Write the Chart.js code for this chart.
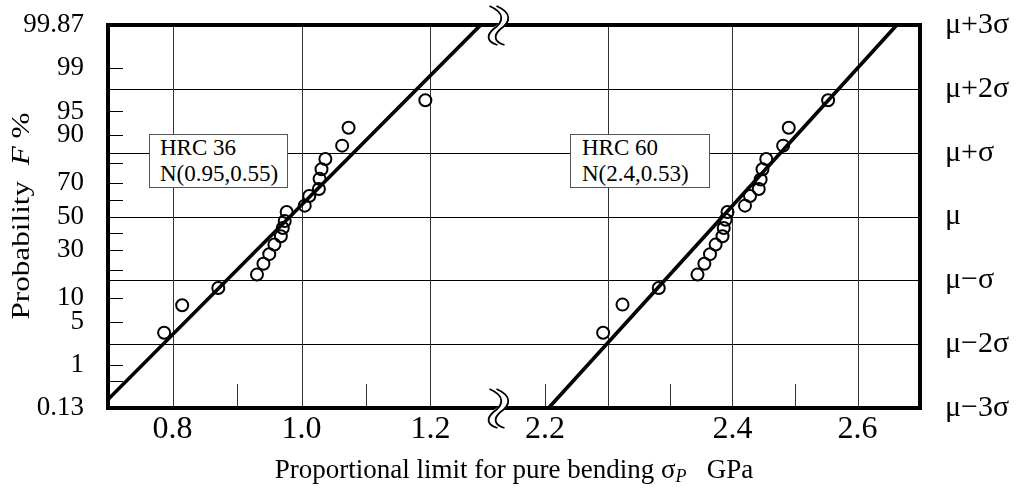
<!DOCTYPE html>
<html>
<head>
<meta charset="utf-8">
<title>Probability plot - proportional limit</title>
<script src="https://cdn.jsdelivr.net/npm/chart.js@4.4.1/dist/chart.umd.min.js"></script>
<style>
  body { margin: 0; background: #fff; }
  #wrap { position: relative; width: 1017px; height: 490px; font-family: "Liberation Serif", "Times New Roman", serif; color: #000; }
  #wrap canvas { position: absolute; left: 0; top: 0; }
  .box { position: absolute; box-sizing: border-box; background: #fff; border: 1px solid #555;
         font-size: 23px; line-height: 26px; padding: 0 0 0 10px; white-space: nowrap; }
  #xtitle { position: absolute; left: 0; width: 1028px; top: 454px; text-align: center; font-size: 27px; line-height: 30px; white-space: pre; }
  #xtitle .sub { font-style: italic; font-size: 18px; position: relative; top: 4px; }
  #ytitle { position: absolute; width: 300px; height: 30px; left: -129px; top: 201px; text-align: center;
            font-size: 26px; line-height: 30px; transform: rotate(-90deg) scaleX(1.2); white-space: pre; }
</style>
</head>
<body>
<div id="wrap">
  <canvas id="left" width="1017" height="490"></canvas>
  <canvas id="right" width="1017" height="490"></canvas>
  <div class="box" style="left:149px; top:134px; width:139px; height:54px;">HRC 36<br>N(0.95,0.55)</div>
  <div class="box" style="left:570px; top:134px; width:140px; height:54px; padding-left:11px;">HRC 60<br>N(2.4,0.53)</div>
  <div id="xtitle">Proportional limit for pure bending σ<span class="sub">P</span>   GPa</div>
  <div id="ytitle">Probability  <i>F</i> %</div>
</div>
<script>
// HRC 36 specimens (GPa, normal score z)
const hrc36X = [0.787, 0.815, 0.871, 0.931, 0.941, 0.950, 0.958, 0.968, 0.971, 0.974,
                0.977, 1.005, 1.012, 1.027, 1.028, 1.031, 1.037, 1.063, 1.073, 1.192];
const hrc36Z = [-1.82, -1.39, -1.12, -0.91, -0.74, -0.59, -0.44, -0.31, -0.18, -0.07,
                0.07, 0.17, 0.32, 0.43, 0.59, 0.74, 0.90, 1.11, 1.39, 1.82];
// HRC 60 specimens
const hrc60X = [2.193, 2.224, 2.282, 2.344, 2.355, 2.364, 2.373, 2.384, 2.386, 2.389,
                2.392, 2.420, 2.428, 2.442, 2.445, 2.448, 2.454, 2.481, 2.490, 2.553];
const hrc60Z = [-1.82, -1.38, -1.12, -0.91, -0.74, -0.59, -0.44, -0.31, -0.18, -0.05,
                0.07, 0.17, 0.32, 0.43, 0.58, 0.74, 0.90, 1.11, 1.39, 1.82];

// fitted lines (two close strokes each)
const fit36aX = [0.700, 1.276], fit36aZ = [-2.85, 3];
const fit36bX = [0.700, 1.2795], fit36bZ = [-2.885, 3];
const fit60aX = [2.104, 2.661], fit60aZ = [-3, 3];
const fit60bX = [2.1075, 2.6645], fit60bZ = [-3, 3];

// axes
const probLabels = ['0.13', '1', '5', '10', '30', '50', '70', '90', '95', '99', '99.87'];
const probLabelZ = [-3, -2.326, -1.645, -1.282, -0.524, 0, 0.524, 1.282, 1.645, 2.326, 3];
const probMinorZ = [-2.576, -2.326, -1.645, -1.282, -0.842, -0.524, -0.253, 0.253, 0.524, 0.842, 1.282, 1.645, 2.326];
const sigmaZ = [-3, -2, -1, 0, 1, 2, 3];
const sigmaLabels = ['μ−3σ', 'μ−2σ', 'μ−σ', 'μ', 'μ+σ', 'μ+2σ', 'μ+3σ'];
const gridZ = [-2, -1, 0, 1, 2];

const leftXGrid = [0.8, 1.0, 1.2];
const leftXMinor = [0.9, 1.1];
const leftXTickPos = [0.8, 1.0, 1.2];
const leftXTickText = ['0.8', '1.0', '1.2'];
const rightXGrid = [2.2, 2.4, 2.6];
const rightXMinor = [2.1, 2.3, 2.5];
const rightXTickPos = [2.1, 2.4, 2.6];
const rightXTickText = ['2.2', '2.4', '2.6'];

Chart.defaults.font.family = '"Liberation Serif", "Times New Roman", serif';
Chart.defaults.color = '#000';

function pts(xs, zs) { return xs.map((x, i) => ({ x: x, y: zs[i] })); }

function drawBreak(ctx, cx, cy) {
  const path = (dx) => {
    ctx.beginPath();
    ctx.moveTo(cx - 4 + dx, cy - 19);
    ctx.bezierCurveTo(cx + 12 + dx, cy - 12, cx + 10 + dx, cy - 3, cx + dx, cy + 4);
    ctx.bezierCurveTo(cx - 8 + dx, cy + 11, cx - 6 + dx, cy + 17, cx + 4 + dx, cy + 20);
  };
  ctx.strokeStyle = '#fff'; ctx.lineWidth = 7; path(0); ctx.stroke();
  ctx.strokeStyle = '#000'; ctx.lineWidth = 1.8;
  path(-3.5); ctx.stroke();
  path(3.5); ctx.stroke();
}

const decor = {
  id: 'decor',
  beforeDatasetsDraw(chart, args, o) {
    const ctx = chart.ctx, a = chart.chartArea, x = chart.scales.x, y = chart.scales.y;
    ctx.save();
    ctx.lineWidth = 1;
    ctx.strokeStyle = '#000';
    ctx.beginPath();
    gridZ.forEach(z => {
      const py = Math.round(y.getPixelForValue(z)) + 0.5;
      ctx.moveTo(a.left, py); ctx.lineTo(a.right, py);
    });
    (o.yMinor || []).forEach(z => {
      const py = Math.round(y.getPixelForValue(z)) + 0.5;
      ctx.moveTo(a.left, py); ctx.lineTo(a.left + 15, py);
    });
    ctx.stroke();
    ctx.strokeStyle = '#333';
    ctx.beginPath();
    o.xGrid.forEach(v => {
      const px = Math.round(x.getPixelForValue(v)) + 0.5;
      ctx.moveTo(px, a.top); ctx.lineTo(px, a.bottom);
    });
    o.xMinor.forEach(v => {
      const px = Math.round(x.getPixelForValue(v)) + 0.5;
      ctx.moveTo(px, a.bottom); ctx.lineTo(px, a.bottom - 24);
    });
    ctx.stroke();
    ctx.restore();
  },
  afterDraw(chart, args, o) {
    const ctx = chart.ctx, a = chart.chartArea;
    ctx.save();
    ctx.strokeStyle = '#000';
    ctx.lineWidth = 4;
    ctx.lineJoin = 'miter';
    ctx.beginPath();
    if (o.side === 'left') {
      ctx.moveTo(a.right, a.top); ctx.lineTo(a.left, a.top);
      ctx.lineTo(a.left, a.bottom); ctx.lineTo(a.right, a.bottom);
    } else {
      ctx.moveTo(a.left, a.top); ctx.lineTo(a.right, a.top);
      ctx.lineTo(a.right, a.bottom); ctx.lineTo(a.left, a.bottom);
    }
    ctx.stroke();
    if (o.side === 'right') {
      drawBreak(ctx, a.left + 2, a.top);
      drawBreak(ctx, a.left + 2, a.bottom);
    }
    ctx.restore();
  }
};

function makeDatasets(px, pz, ax, az, bx, bz) {
  const line = { showLine: true, borderColor: '#000', borderWidth: 2, pointRadius: 0, fill: false };
  return [
    { data: pts(px, pz), showLine: false, pointRadius: 6, pointBorderWidth: 2,
      pointBorderColor: '#000', pointBackgroundColor: 'rgba(0,0,0,0)' },
    Object.assign({ data: pts(ax, az) }, line),
    Object.assign({ data: pts(bx, bz) }, line)
  ];
}

// keep label overhang from pushing the plot area around
function fitX(s) { s.height = 82; s.paddingLeft = 0; s.paddingRight = 0; }
function fitYLeft(s) { s.width = 108; s.paddingTop = 0; s.paddingBottom = 0; }
function fitYRight(s) { s.width = 97; s.paddingTop = 0; s.paddingBottom = 0; }

const xFont = { size: 32 };

new Chart(document.getElementById('left'), {
  type: 'scatter',
  data: { datasets: makeDatasets(hrc36X, hrc36Z, fit36aX, fit36aZ, fit36bX, fit36bZ) },
  options: {
    responsive: false, animation: false, devicePixelRatio: 1,
    layout: { padding: { left: 0, right: 522, top: 25, bottom: 0 } },
    plugins: { legend: { display: false }, tooltip: { enabled: false },
               decor: { side: 'left', xGrid: leftXGrid, xMinor: leftXMinor, yMinor: probMinorZ } },
    scales: {
      x: {
        type: 'linear', min: 0.7, max: 1.3,
        afterBuildTicks: s => { s.ticks = leftXTickPos.map(v => ({ value: v })); },
        afterFit: fitX,
        ticks: { autoSkip: false, maxRotation: 0, padding: -6, font: xFont,
                 callback: (v, i) => leftXTickText[i] },
        grid: { display: false }, border: { display: false }
      },
      y: {
        type: 'linear', min: -3, max: 3, position: 'left',
        afterBuildTicks: s => { s.ticks = probLabelZ.map(v => ({ value: v })); },
        afterFit: fitYLeft,
        ticks: { autoSkip: false, padding: 16, font: { size: 27 }, callback: (v, i) => probLabels[i] },
        grid: { display: false }, border: { display: false }
      }
    }
  },
  plugins: [decor]
});

new Chart(document.getElementById('right'), {
  type: 'scatter',
  data: { datasets: makeDatasets(hrc60X, hrc60Z, fit60aX, fit60aZ, fit60bX, fit60bZ) },
  options: {
    responsive: false, animation: false, devicePixelRatio: 1,
    layout: { padding: { left: 495, right: 0, top: 25, bottom: 0 } },
    plugins: { legend: { display: false }, tooltip: { enabled: false },
               decor: { side: 'right', xGrid: rightXGrid, xMinor: rightXMinor } },
    scales: {
      x: {
        type: 'linear', min: 2.02, max: 2.70,
        afterBuildTicks: s => { s.ticks = rightXTickPos.map(v => ({ value: v })); },
        afterFit: fitX,
        ticks: { autoSkip: false, maxRotation: 0, padding: -6, font: xFont,
                 callback: (v, i) => rightXTickText[i] },
        grid: { display: false }, border: { display: false }
      },
      y: {
        type: 'linear', min: -3, max: 3, position: 'right',
        afterBuildTicks: s => { s.ticks = sigmaZ.map(v => ({ value: v })); },
        afterFit: fitYRight,
        ticks: { autoSkip: false, padding: 17, font: { size: 30 }, callback: (v, i) => sigmaLabels[i] },
        grid: { display: false }, border: { display: false }
      }
    }
  },
  plugins: [decor]
});
</script>
</body>
</html>
